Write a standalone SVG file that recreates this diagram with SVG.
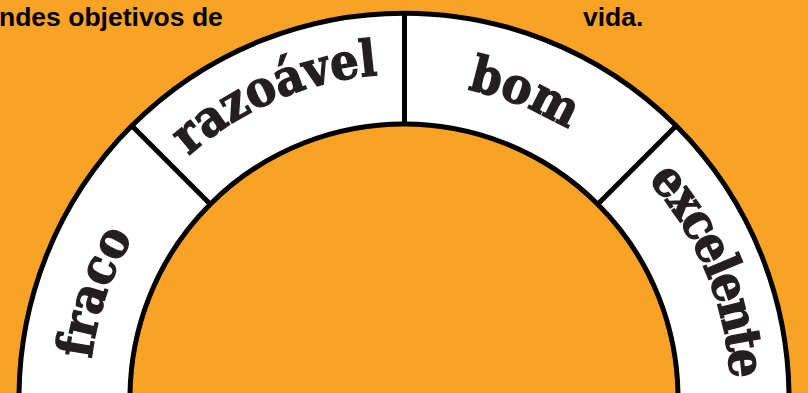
<svg xmlns="http://www.w3.org/2000/svg" xmlns:xlink="http://www.w3.org/1999/xlink" width="808" height="393" viewBox="0 0 808 393">
  <defs>
    <style>
      .bg { fill: #f9a326; }
      .ring { fill: #ffffff; stroke: #000000; stroke-width: 5; }
      .div { stroke: #000000; stroke-width: 5; fill: none; }
      .lbl { font-family: "DejaVu Serif Condensed", "DejaVu Serif", "Liberation Serif", serif; font-stretch: condensed; font-weight: bold; font-size: 50px; fill: #231f20; stroke: #231f20; stroke-width: 1.3; }
      .top { font-family: "Liberation Sans", Arial, sans-serif; font-weight: bold; font-size: 26.5px; fill: #000000; }
    </style>
    <path id="arc315" d="M 89 398 A 315 315 0 0 1 719 398"/>
    <path id="arc324" d="M 80 398 A 324 324 0 0 1 728 398"/>
    <path id="arc327" d="M 77 398 A 327 327 0 0 1 731 398"/>
  </defs>
  <rect class="bg" x="0" y="0" width="808" height="393"/>
  <g id="caption">
    <text class="top" x="-1" y="26">ndes objetivos de</text>
    <text class="top" x="583" y="26">vida.</text>
  </g>
  <g id="ring">
    <path class="ring" d="M 19 398 A 385 385 0 0 1 789 398 L 678 398 A 274 274 0 0 0 130 398 Z"/>
  </g>
  <g id="connectors">
    <line class="div" x1="131.8" y1="125.8" x2="210.3" y2="204.3"/>
    <line class="div" x1="404.5" y1="13" x2="404.5" y2="124"/>
    <line class="div" x1="676.2" y1="125.8" x2="597.7" y2="204.3"/>
  </g>
  <g id="fraco">
    <text class="lbl" text-anchor="middle"><textPath xlink:href="#arc315" startOffset="104">fraco</textPath></text>
  </g>
  <g id="razoavel">
    <text class="lbl" text-anchor="middle"><textPath xlink:href="#arc324" startOffset="378">razoável</textPath></text>
  </g>
  <g id="bom">
    <text class="lbl" text-anchor="middle"><textPath xlink:href="#arc315" startOffset="613">bom</textPath></text>
  </g>
  <g id="excelente">
    <text class="lbl" text-anchor="middle" letter-spacing="-2.5"><textPath xlink:href="#arc327" startOffset="897">excelente</textPath></text>
  </g>
</svg>
